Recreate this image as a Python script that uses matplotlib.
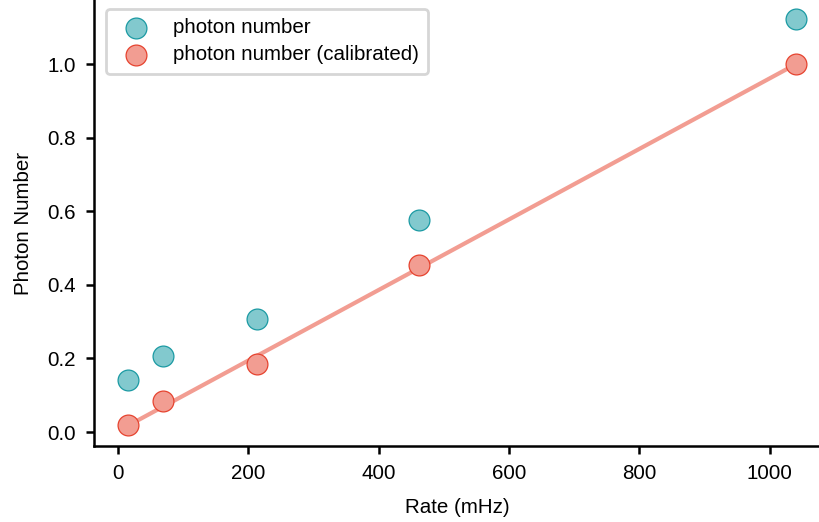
"""Photon number vs. rate, raw and calibrated, with linear fit."""

import numpy as np
import matplotlib.pyplot as plt

plt.rcParams["font.family"] = ["Liberation Sans", "DejaVu Sans"]

# Data
rate_mhz = [15, 69, 213, 462, 1040]
photon_raw = [0.141, 0.207, 0.306, 0.575, 1.122]
photon_cal = [0.018, 0.083, 0.184, 0.453, 1.0]

BLUE_FILL = "#82c9ce"
BLUE_EDGE = "#1b9aa3"
RED_FILL = "#f29d92"
RED_EDGE = "#e6432f"
FS = 14.8

fig = plt.figure(figsize=(8.2, 5.22), dpi=100)
ax = fig.add_axes([0.1146, 0.1456, 0.8854, 0.8544])

# linear fit through the calibrated points
slope, intercept = np.polyfit(rate_mhz, photon_cal, 1)
fit_x = np.array([rate_mhz[0], rate_mhz[-1]])
ax.plot(fit_x, slope * fit_x + intercept, color=RED_FILL, lw=3, zorder=1)

ax.scatter(rate_mhz, photon_raw, s=225, color=BLUE_FILL, edgecolor=BLUE_EDGE,
           linewidth=0.9, label="photon number", zorder=3)
ax.scatter(rate_mhz, photon_cal, s=225, color=RED_FILL, edgecolor=RED_EDGE,
           linewidth=0.9, label="photon number (calibrated)", zorder=3)

ax.set_xlim(-37, 1077)
ax.set_ylim(-0.038, 1.174)
ax.set_xticks([0, 200, 400, 600, 800, 1000])
ax.set_yticks([0.0, 0.2, 0.4, 0.6, 0.8, 1.0])
ax.set_xlabel("Rate (mHz)", fontsize=FS, labelpad=11)
ax.set_ylabel("Photon Number", fontsize=FS, labelpad=10)

for side in ("top", "right"):
    ax.spines[side].set_visible(False)
for side in ("left", "bottom"):
    ax.spines[side].set_linewidth(1.8)
ax.tick_params(width=1.8, length=6, labelsize=FS, pad=7)

leg = ax.legend(loc="upper left", fontsize=FS, frameon=True, fancybox=True,
                borderpad=0.45, handletextpad=0.8, labelspacing=0.4,
                borderaxespad=0, bbox_to_anchor=(0.0165, 0.98))
leg.get_frame().set_edgecolor("#cccccc")
leg.get_frame().set_linewidth(2)

fig.savefig("out.png", dpi=100)
